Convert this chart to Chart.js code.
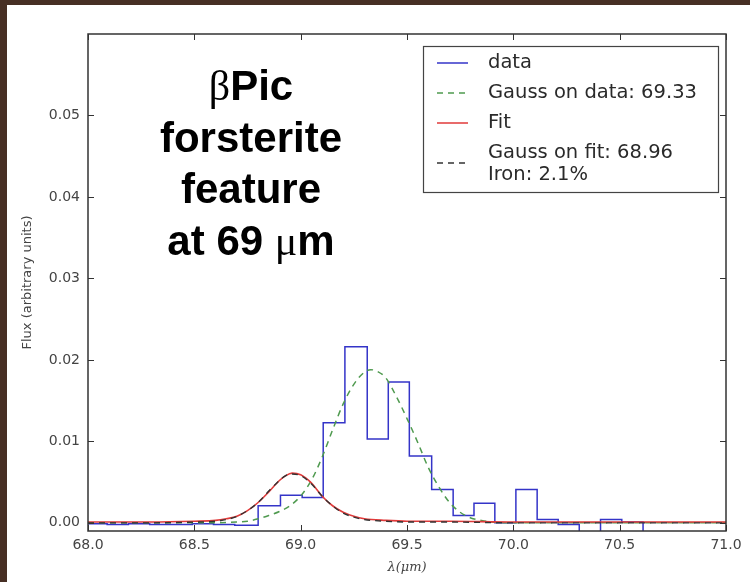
<!DOCTYPE html>
<html>
<head>
<meta charset="utf-8">
<script src="https://cdn.jsdelivr.net/npm/chart.js@4.4.1/dist/chart.umd.min.js"></script>
<style>
  html, body { margin: 0; padding: 0; background: #472f24; }
  body { width: 750px; height: 582px; position: relative; overflow: hidden; }
  #wrap { position: absolute; left: 7px; top: 5px; width: 743px; height: 577px; background: #fff; }
</style>
</head>
<body>
<div id="wrap"><canvas id="spectrum" width="743" height="577"></canvas></div>
<script>
// observed spectrum: left edge of each bin (micron) and its flux
const binEdges = [67.99, 68.09, 68.19, 68.29, 68.39, 68.49, 68.59, 68.69, 68.80, 68.905,
                  69.007, 69.106, 69.208, 69.313, 69.412, 69.511, 69.616, 69.717, 69.815, 69.913,
                  70.012, 70.112, 70.211, 70.31, 70.41, 70.51, 70.61, 70.71, 70.81, 70.91, 71.01];
const binFlux = [-0.0001, -0.0002, -0.0001, -0.0002, -0.0002, -0.0001, -0.0002, -0.0003, 0.0021, 0.0034,
                 0.0031, 0.0123, 0.0216, 0.0103, 0.0173, 0.0082, 0.0041, 0.0009, 0.0024, 0.0000,
                 0.0041, 0.0004, -0.0002, -0.003, 0.0004, 0.0001, -0.003, -0.003, -0.003, -0.003, -0.003];

// gaussian fitted on the data
const gaussDataX = [68.0, 68.3, 68.6, 68.7, 68.75, 68.8, 68.85, 68.9, 68.95, 69.0,
                    69.05, 69.1, 69.15, 69.2, 69.25, 69.3, 69.33, 69.36, 69.4, 69.45,
                    69.5, 69.55, 69.6, 69.65, 69.7, 69.75, 69.8, 69.85, 69.9, 70.0,
                    70.3, 70.6, 71.0];
const gaussDataFlux = [0.0000, 0.0000, 0.0000, 0.0001, 0.0002, 0.0005, 0.0009, 0.0014, 0.0021, 0.0033,
                       0.0052, 0.0080, 0.0114, 0.0146, 0.0170, 0.0185, 0.0188, 0.0186, 0.0178, 0.0155,
                       0.0128, 0.0099, 0.0068, 0.0044, 0.0025, 0.0013, 0.0006, 0.0003, 0.0001, 0.0000,
                       0.0000, 0.0000, 0.0000];

// model fit and the gaussian fitted on it
const fitX = [68.0, 68.3, 68.5, 68.6, 68.65, 68.7, 68.75, 68.8, 68.85, 68.9,
              68.93, 68.96, 69.0, 69.05, 69.1, 69.15, 69.2, 69.25, 69.3, 69.4,
              69.5, 69.7, 70.0, 70.5, 71.0];
const fitFlux = [0.0001, 0.0001, 0.0002, 0.0003, 0.0005, 0.0008, 0.0015, 0.0025, 0.0038, 0.0052,
                 0.0058, 0.0061, 0.0059, 0.0049, 0.0033, 0.0021, 0.0013, 0.0008, 0.0005, 0.0003,
                 0.0002, 0.0002, 0.0001, 0.0001, 0.0001];
const gaussFitFlux = [0.0000, 0.0000, 0.0001, 0.0002, 0.0004, 0.0008, 0.0015, 0.0025, 0.0039, 0.0052,
                      0.0058, 0.0060, 0.0058, 0.0048, 0.0033, 0.0021, 0.0012, 0.0007, 0.0004, 0.0002,
                      0.0001, 0.0001, 0.0000, 0.0000, 0.0000];

const xTicks = [68.0, 68.5, 69.0, 69.5, 70.0, 70.5, 71.0];
const yTicks = [0.00, 0.01, 0.02, 0.03, 0.04, 0.05];

const legendLabels = ['data', 'Gauss on data: 69.33', 'Fit', 'Gauss on fit: 68.96', 'Iron: 2.1%'];

const BLUE = '#3434c8';
const GREEN = '#4f9a4f';
const RED = '#e03a3a';
const DARK = '#333333';

function pairs(xs, ys) {
    return xs.map((v, i) => ({ x: v, y: ys[i] }));
}

// draws a line of text made of runs with different fonts, centred on cx
function drawRuns(ctx, runs, cx, baseline) {
    let total = 0;
    runs.forEach(r => { ctx.font = r[1]; total += ctx.measureText(r[0]).width; });
    let x = cx - total / 2;
    runs.forEach(r => {
        ctx.font = r[1];
        ctx.fillText(r[0], x, baseline);
        x += ctx.measureText(r[0]).width;
    });
}

const frameAndLegend = {
    id: 'frameAndLegend',
    afterDatasetsDraw(chart) {
        const { ctx, chartArea: a, scales: { x, y } } = chart;
        ctx.save();

        // axes frame + inward ticks like matplotlib
        ctx.strokeStyle = DARK;
        ctx.lineWidth = 1.5;
        ctx.strokeRect(a.left, a.top, a.right - a.left, a.bottom - a.top);
        ctx.lineWidth = 1;
        ctx.beginPath();
        xTicks.forEach(v => {
            const px = Math.round(x.getPixelForValue(v)) + 0.5;
            ctx.moveTo(px, a.bottom); ctx.lineTo(px, a.bottom - 6);
            ctx.moveTo(px, a.top); ctx.lineTo(px, a.top + 6);
        });
        yTicks.forEach(v => {
            const py = Math.round(y.getPixelForValue(v)) + 0.5;
            ctx.moveTo(a.left, py); ctx.lineTo(a.left + 6, py);
            ctx.moveTo(a.right, py); ctx.lineTo(a.right - 6, py);
        });
        ctx.stroke();

        // legend box
        const bx = 416, by = 41, bw = 295, bh = 146;
        ctx.fillStyle = '#fff';
        ctx.fillRect(bx, by, bw, bh);
        ctx.strokeStyle = '#444';
        ctx.lineWidth = 1.2;
        ctx.strokeRect(bx + 0.5, by + 0.5, bw, bh);

        const ds = chart.data.datasets;
        const sampleY = [58, 88, 118, 158];
        ds.forEach((d, i) => {
            ctx.strokeStyle = d.borderColor;
            ctx.lineWidth = 1.5;
            ctx.setLineDash(d.borderDash || []);
            ctx.beginPath();
            ctx.moveTo(430, sampleY[i]);
            ctx.lineTo(461, sampleY[i]);
            ctx.stroke();
        });
        ctx.setLineDash([]);
        ctx.fillStyle = '#2a2a2a';
        ctx.font = '19.5px "DejaVu Sans"';
        ctx.textBaseline = 'middle';
        const textY = [58, 88, 118, 148, 170];
        legendLabels.forEach((t, i) => ctx.fillText(t, 481, textY[i]));

        // annotation
        ctx.fillStyle = '#000';
        ctx.textBaseline = 'alphabetic';
        const bold = 'bold 42px "Liberation Sans"';
        const serif = '42px "Liberation Serif"';
        drawRuns(ctx, [['\u03B2', serif], ['Pic', bold]], 244, 95);
        drawRuns(ctx, [['forsterite', bold]], 244, 147);
        drawRuns(ctx, [['feature', bold]], 244, 198);
        drawRuns(ctx, [['at 69 ', bold], ['\u03BC', serif], ['m', bold]], 244, 250);

        ctx.restore();
    }
};

Chart.defaults.font.family = '"DejaVu Sans"';

new Chart(document.getElementById('spectrum'), {
    type: 'line',
    data: {
        datasets: [
            {
                label: 'data',
                data: pairs(binEdges, binFlux),
                borderColor: BLUE,
                borderWidth: 1.5,
                stepped: 'before',
                pointRadius: 0,
                order: 4
            },
            {
                label: 'Gauss on data: 69.33',
                data: pairs(gaussDataX, gaussDataFlux),
                borderColor: GREEN,
                borderWidth: 1.5,
                borderDash: [6, 5],
                cubicInterpolationMode: 'monotone',
                pointRadius: 0,
                order: 3
            },
            {
                label: 'Fit',
                data: pairs(fitX, fitFlux),
                borderColor: RED,
                borderWidth: 1.6,
                cubicInterpolationMode: 'monotone',
                pointRadius: 0,
                order: 2
            },
            {
                label: 'Gauss on fit: 68.96',
                data: pairs(fitX, gaussFitFlux),
                borderColor: DARK,
                borderWidth: 1.4,
                borderDash: [6, 5],
                cubicInterpolationMode: 'monotone',
                pointRadius: 0,
                order: 1
            }
        ]
    },
    options: {
        responsive: false,
        animation: false,
        layout: { padding: { top: 29, right: 24, left: 0, bottom: 0 } },
        plugins: {
            legend: { display: false },
            tooltip: { enabled: false }
        },
        scales: {
            x: {
                type: 'linear',
                min: 68,
                max: 71,
                afterBuildTicks: s => { s.ticks = xTicks.map(v => ({ value: v })); },
                afterFit: s => { s.height = 51; },
                grid: { display: false, drawTicks: false },
                border: { display: false },
                ticks: {
                    padding: 6,
                    color: '#444',
                    font: { size: 14 },
                    callback: v => v.toFixed(1)
                },
                title: {
                    display: true,
                    text: '\u03BB(\u03BCm)',
                    color: '#444',
                    font: { family: '"DejaVu Serif"', style: 'italic', size: 13 },
                    padding: { top: 0, bottom: 7 }
                }
            },
            y: {
                min: -0.001,
                max: 0.06,
                afterBuildTicks: s => { s.ticks = yTicks.map(v => ({ value: v })); },
                afterFit: s => { s.width = 81; },
                grid: { display: false, drawTicks: false },
                border: { display: false },
                ticks: {
                    padding: 8,
                    color: '#444',
                    font: { size: 14 },
                    callback: v => v.toFixed(2)
                },
                title: {
                    display: true,
                    text: 'Flux (arbitrary units)',
                    color: '#444',
                    font: { size: 13 },
                    padding: { top: 13, bottom: 0 }
                }
            }
        }
    },
    plugins: [frameAndLegend]
});
</script>
</body>
</html>
